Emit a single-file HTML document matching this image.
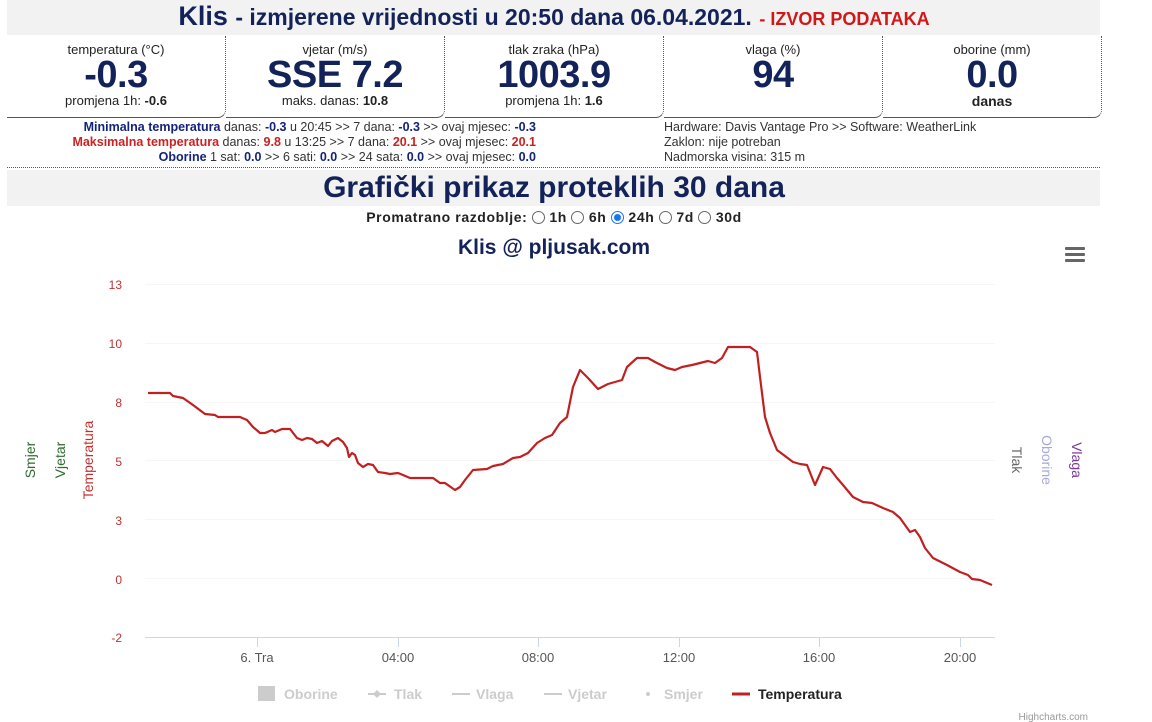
<!DOCTYPE html>
<html><head><meta charset="utf-8">
<style>
*{margin:0;padding:0;box-sizing:border-box}
body{width:1152px;height:722px;background:#fff;font-family:"Liberation Sans",Arial,sans-serif;position:relative;overflow:hidden;color:#111}
.band{position:absolute;left:7px;width:1093px;background:#f2f2f2}
.nar{font-family:"Liberation Sans Narrow","Liberation Sans",sans-serif;font-weight:bold;color:#13235a}
.box{position:absolute;top:36px;height:82px;width:219px;border-right:1px dotted #555;border-bottom:1px solid #555;border-bottom-right-radius:8px;text-align:center}
.box .l{font-size:13px;color:#222;margin-top:6px}
.box .v{font-size:38px;line-height:36px;font-family:"Liberation Sans Narrow","Liberation Sans",sans-serif;font-weight:bold;color:#13235a;letter-spacing:-0.5px}
.box .s{font-size:13px;color:#222;margin-top:0px}
.info{position:absolute;font-size:12.5px;line-height:15px;color:#333}
b.n{color:#13237a}b.r{color:#cc2222}
</style></head><body>
<div class="band" style="top:0;height:35px"></div>
<div class="nar" style="position:absolute;top:1px;left:0;width:1108px;text-align:center;font-size:27px;white-space:nowrap">Klis <span style="font-size:23px">- izmjerene vrijednosti u 20:50 dana 06.04.2021.</span> <span style="font-size:18px;color:#d01818">- IZVOR PODATAKA</span></div>
<div class="box" style="left:7px"><div class="l">temperatura (°C)</div><div class="v">-0.3</div><div class="s">promjena 1h: <b>-0.6</b></div></div>
<div class="box" style="left:226px"><div class="l">vjetar (m/s)</div><div class="v">SSE 7.2</div><div class="s">maks. danas: <b>10.8</b></div></div>
<div class="box" style="left:445px"><div class="l">tlak zraka (hPa)</div><div class="v">1003.9</div><div class="s">promjena 1h: <b>1.6</b></div></div>
<div class="box" style="left:664px"><div class="l">vlaga (%)</div><div class="v">94</div><div class="s">&nbsp;</div></div>
<div class="box" style="left:883px"><div class="l">oborine (mm)</div><div class="v">0.0</div><div class="s"><b class="nar" style="color:#222;font-size:14px">danas</b></div></div>
<div class="info" style="left:0;top:120px;width:536px;text-align:right">
<b class="n">Minimalna temperatura</b> danas: <b class="n">-0.3</b> u 20:45 &gt;&gt; 7 dana: <b class="n">-0.3</b> &gt;&gt; ovaj mjesec: <b class="n">-0.3</b><br>
<b class="r">Maksimalna temperatura</b> danas: <b class="r">9.8</b> u 13:25 &gt;&gt; 7 dana: <b class="r">20.1</b> &gt;&gt; ovaj mjesec: <b class="r">20.1</b><br>
<b class="n">Oborine</b> 1 sat: <b class="n">0.0</b> &gt;&gt; 6 sati: <b class="n">0.0</b> &gt;&gt; 24 sata: <b class="n">0.0</b> &gt;&gt; ovaj mjesec: <b class="n">0.0</b></div>
<div class="info" style="left:664px;top:120px">Hardware: Davis Vantage Pro &gt;&gt; Software: WeatherLink<br>Zaklon: nije potreban<br>Nadmorska visina: 315 m</div>
<div style="position:absolute;left:7px;top:167px;width:1093px;border-top:1px dotted #555"></div>
<div class="band" style="top:170px;height:36px"></div>
<div class="nar" style="position:absolute;top:171px;left:0;width:1108px;text-align:center;font-size:30px">Grafički prikaz proteklih 30 dana</div>
<div class="nar" style="position:absolute;top:209px;left:0;width:1108px;text-align:center;font-size:14px;color:#222;white-space:nowrap;letter-spacing:0.6px">Promatrano razdoblje:
<span style="display:inline-block;width:13px;height:13px;border:1px solid #666;border-radius:50%;vertical-align:-2px"></span> 1h
<span style="display:inline-block;width:13px;height:13px;border:1px solid #666;border-radius:50%;vertical-align:-2px"></span> 6h
<span style="display:inline-block;width:13px;height:13px;border:1px solid #1a73e8;border-radius:50%;vertical-align:-2px;background:radial-gradient(#1a73e8 3px,#fff 4px)"></span> 24h
<span style="display:inline-block;width:13px;height:13px;border:1px solid #666;border-radius:50%;vertical-align:-2px"></span> 7d
<span style="display:inline-block;width:13px;height:13px;border:1px solid #666;border-radius:50%;vertical-align:-2px"></span> 30d</div>
<div class="nar" style="position:absolute;top:236px;left:0;width:1108px;text-align:center;font-size:21px">Klis @ pljusak.com</div>
<svg width="1152" height="722" style="position:absolute;left:0;top:0" font-family="Liberation Sans Narrow, Liberation Sans, sans-serif">
<g fill="#666"><rect x="1065" y="247" width="20" height="3" rx="1"/><rect x="1065" y="253" width="20" height="3" rx="1"/><rect x="1065" y="259" width="20" height="3" rx="1"/></g>
<g stroke="#f6f6f6" stroke-width="1">
<line x1="145" x2="995" y1="284.5" y2="284.5"/><line x1="145" x2="995" y1="343.5" y2="343.5"/><line x1="145" x2="995" y1="402.5" y2="402.5"/><line x1="145" x2="995" y1="460.5" y2="460.5"/><line x1="145" x2="995" y1="519.5" y2="519.5"/><line x1="145" x2="995" y1="578.5" y2="578.5"/></g>
<line x1="145" x2="995" y1="637.5" y2="637.5" stroke="#ccd6eb"/>
<g stroke="#ccd6eb"><line x1="257.5" x2="257.5" y1="638" y2="647"/><line x1="398.5" x2="398.5" y1="638" y2="647"/><line x1="538.5" x2="538.5" y1="638" y2="647"/><line x1="679.5" x2="679.5" y1="638" y2="647"/><line x1="819.5" x2="819.5" y1="638" y2="647"/><line x1="960.5" x2="960.5" y1="638" y2="647"/></g>
<g fill="#c03030" font-size="12" text-anchor="end"><text x="122" y="289">13</text><text x="122" y="348">10</text><text x="122" y="407">8</text><text x="122" y="466">5</text><text x="122" y="525">3</text><text x="122" y="584">0</text><text x="122" y="642">-2</text></g>
<g fill="#555" font-size="13" text-anchor="middle"><text x="257" y="662">6. Tra</text><text x="398" y="662">04:00</text><text x="538" y="662">08:00</text><text x="679" y="662">12:00</text><text x="819" y="662">16:00</text><text x="960" y="662">20:00</text></g>
<g font-size="14" text-anchor="middle">
<text transform="translate(35,460) rotate(-90)" fill="#2e6b2e">Smjer</text>
<text transform="translate(65,460) rotate(-90)" fill="#2e6b2e">Vjetar</text>
<text transform="translate(93,460) rotate(-90)" fill="#c03030">Temperatura</text>
<text transform="translate(1012,460) rotate(90)" fill="#666">Tlak</text>
<text transform="translate(1042,460) rotate(90)" fill="#a8a8d8">Oborine</text>
<text transform="translate(1072,460) rotate(90)" fill="#7a3a9a">Vlaga</text></g>
<polyline fill="none" stroke="#c02020" stroke-width="2.2" stroke-linejoin="round" points="148,393 170,393 173,396 183,398 193,405 205,414 215,415 218,417 240,417 247,420 253,427 260,433 265,433 272,430 275,432 282,429 290,429 297,438 302,440 307,438 312,439 317,443 322,441 328,446 332,441 338,438 343,442 347,448 349,457 352,453 355,455 358,463 363,467 368,464 373,465 378,472 385,473 390,474 398,473 403,475 410,478 433,478 440,483 445,483 455,490 460,487 465,480 473,470 487,469 493,466 503,464 513,458 520,457 528,453 537,443 545,438 552,435 560,423 567,417 573,387 580,370 588,378 598,389 608,384 615,382 622,380 627,367 637,358 648,358 655,362 667,368 675,370 682,367 692,365 700,363 708,361 715,363 722,358 728,347 750,347 757,352 760,377 765,417 770,433 777,450 793,462 800,464 807,465 815,485 823,467 830,469 837,478 843,485 853,497 863,502 872,503 883,508 893,512 900,518 910,532 915,530 920,537 925,548 933,558 947,565 960,572 968,575 972,579 980,580 992,585"/>
<g font-size="14" font-weight="bold" fill="#ccc">
<rect x="258" y="686" width="17" height="15" fill="#ccc"/><text x="284" y="699">Oborine</text>
<line x1="368" x2="386" y1="694" y2="694" stroke="#ccc" stroke-width="2"/><path d="M377 690l4 4-4 4-4-4z"/><text x="394" y="699">Tlak</text>
<line x1="452" x2="470" y1="694" y2="694" stroke="#ccc" stroke-width="2"/><text x="476" y="699">Vlaga</text>
<line x1="544" x2="562" y1="694" y2="694" stroke="#ccc" stroke-width="2"/><text x="568" y="699">Vjetar</text>
<circle cx="648" cy="694" r="2"/><text x="664" y="699">Smjer</text>
<line x1="732" x2="750" y1="694" y2="694" stroke="#c02020" stroke-width="3"/><text x="758" y="699" fill="#222">Temperatura</text></g>
<text x="1088" y="720" font-size="10" fill="#999" text-anchor="end">Highcharts.com</text>
</svg>
</body></html>
